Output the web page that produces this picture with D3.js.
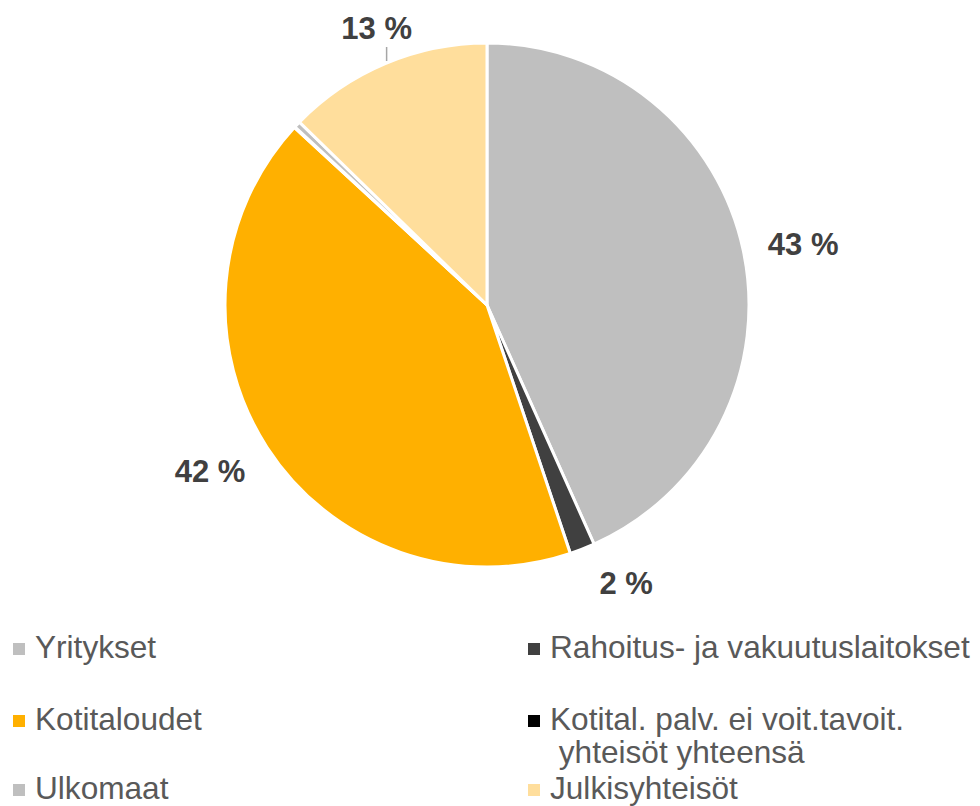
<!DOCTYPE html>
<html>
<head>
<meta charset="utf-8">
<script src="https://cdn.jsdelivr.net/npm/d3@7"></script>
<style>
  html, body { margin: 0; padding: 0; background: #ffffff; }
  svg { display: block; }
</style>
</head>
<body>
<svg id="chart" width="980" height="806"></svg>
<script>
// ---- data ----
const categories = [
  "Yritykset",
  "Rahoitus- ja vakuutuslaitokset",
  "Kotitaloudet",
  "Kotital. palv. ei voit.tavoit. yhteisöt yhteensä",
  "Ulkomaat",
  "Julkisyhteisöt"
];
const legendLines = [
  ["Yritykset"],
  ["Rahoitus- ja vakuutuslaitokset"],
  ["Kotitaloudet"],
  ["Kotital. palv. ei voit.tavoit.", " yhteisöt yhteensä"],
  ["Ulkomaat"],
  ["Julkisyhteisöt"]
];
const values = [43.3, 1.55, 42.0, 0.05, 0.4, 12.7];
const colors = ["#BFBFBF", "#404040", "#FFB000", "#000000", "#BFBFBF", "#FFDE9C"];
const showLabel = [true, true, true, false, false, true];
const leaderLine = [false, false, false, false, false, true];

// ---- layout ----
const cx = 487, cy = 305, R = 262;
const labelGap = 28;
const labelNudge = [[-2, 3], [24, -6], [-4, 0], [0, 0], [0, 0], [16, 5]];
const fontFamily = "Arial, 'Liberation Sans', sans-serif";

const svg = d3.select("#chart");
const pie = d3.pie().sort(null).value(d => d.value).startAngle(0).endAngle(2 * Math.PI);
const arc = d3.arc().innerRadius(0).outerRadius(R);

const data = categories.map((c, i) => ({ name: c, value: values[i], color: colors[i], i }));
const arcs = pie(data);

const g = svg.append("g").attr("transform", `translate(${cx},${cy})`);
g.selectAll("path.slice")
  .data(arcs)
  .join("path")
  .attr("class", "slice")
  .attr("d", arc)
  .attr("fill", d => d.data.color)
  .attr("stroke", "#ffffff")
  .attr("stroke-width", 3)
  .attr("stroke-linejoin", "miter");

// labels
const lbl = g.append("g");
arcs.forEach(a => {
  const i = a.data.i;
  if (!showLabel[i]) return;
  const mid = (a.startAngle + a.endAngle) / 2;
  const s = Math.sin(mid), c = Math.cos(mid);
  const txt = Math.round(a.data.value) + " %";
  const fs = 31;
  const t = lbl.append("text")
    .attr("text-anchor", "middle")
    .attr("dominant-baseline", "central")
    .attr("font-family", fontFamily)
    .attr("font-size", fs)
    .attr("font-weight", "bold")
    .attr("fill", "#404040")
    .text(txt);
  const w = t.node().getComputedTextLength(), h = fs;
  const x = (R + labelGap) * s + (w / 2) * s + labelNudge[i][0];
  const y = -(R + labelGap) * c - (h / 2) * c + labelNudge[i][1];
  t.attr("x", x).attr("y", y);
  if (leaderLine[i]) {
    const lx = x + 10;
    const y1 = y + h / 2 + 3;
    const y2 = -Math.sqrt(R * R - lx * lx) - 2;
    lbl.append("line")
      .attr("x1", lx).attr("x2", lx)
      .attr("y1", y1).attr("y2", y2)
      .attr("stroke", "#A6A6A6")
      .attr("stroke-width", 1.5);
  }
});

// legend
const colX = [13, 528];
const rowY = [658, 730, 799];
const legend = svg.append("g");
data.forEach((d, i) => {
  const col = i % 2, row = Math.floor(i / 2);
  const x = colX[col], y = rowY[row];
  legend.append("rect")
    .attr("x", x).attr("y", y - 15)
    .attr("width", 12).attr("height", 12)
    .attr("fill", d.color);
  const t = legend.append("text")
    .attr("font-family", fontFamily)
    .attr("font-size", 31.6)
    .attr("fill", "#595959")
    .attr("xml:space", "preserve")
    .style("white-space", "pre");
  legendLines[i].forEach((line, k) => {
    t.append("tspan")
      .attr("x", x + 22)
      .attr("y", y + k * 33)
      .text(line);
  });
});
</script>
</body>
</html>
